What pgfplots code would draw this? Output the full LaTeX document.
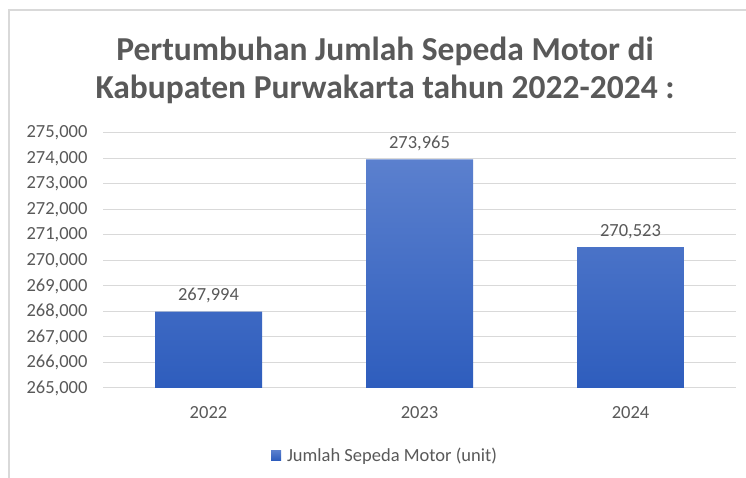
\documentclass[border=0pt]{standalone}
\usepackage{fontspec}
\setmainfont{Carlito}
\usepackage{pgfplots}
\pgfplotsset{compat=1.18}
\definecolor{txt}{HTML}{595959}
\definecolor{gridc}{HTML}{D9D9D9}
\definecolor{bartop}{HTML}{5B80CE}
\definecolor{barbot}{HTML}{2E5DBD}
\begin{document}
\begin{tikzpicture}[x=1pt,y=1pt]
\useasboundingbox (0,0) rectangle (746,478);
\fill[white] (0,0) rectangle (746,478);
\draw[gridc, line width=1.2pt] (9,-5) -- (9,468) -- (760,468);
\node[font=\fontsize{33.5}{38}\selectfont\bfseries, text=txt, align=center] at (385,408) {Pertumbuhan Jumlah Sepeda Motor di\\Kabupaten Purwakarta tahun 2022-2024 :};
\begin{axis}[at={(103pt,90pt)}, anchor=south west, scale only axis,
  width=633pt, height=255pt,
  xmin=-0.5, xmax=2.5, ymin=265000, ymax=275000,
  ytick={265000,266000,267000,268000,269000,270000,271000,272000,273000,274000,275000},
  yticklabels={{265,000},{266,000},{267,000},{268,000},{269,000},{270,000},{271,000},{272,000},{273,000},{274,000},{275,000}},
  xtick={0,1,2}, xticklabels={2022,2023,2024},
  scaled y ticks=false,
  axis line style={draw=none}, major tick length=0pt,
  ymajorgrids, major grid style={gridc, line width=1pt},
  tick label style={font=\fontsize{18.5}{22}\selectfont, text=txt},
  yticklabel style={xshift=-12pt},
  xticklabel style={yshift=-15pt},
  ybar, bar width=107pt, bar shift=0pt,
  point meta=explicit symbolic,
  nodes near coords,
  nodes near coords style={font=\fontsize{18.5}{22}\selectfont, text=txt, yshift=5pt},
  legend style={at={(axis description cs:0.4455,-0.263)}, anchor=center, draw=none, fill=none, font=\fontsize{18.5}{22}\selectfont, text=txt, inner sep=0pt},
  legend image code/.code={\fill[barbot!85!bartop] (0pt,-5pt) rectangle (10pt,5pt);},
  legend cell align=left,
]
\addplot[draw=none, top color=bartop, bottom color=barbot] coordinates {(0,267994) [267,994] (1,273965) [273,965] (2,270523) [270,523]};
\addlegendentry{\hspace{4pt}Jumlah Sepeda Motor (unit)}
\end{axis}
\end{tikzpicture}
\end{document}
